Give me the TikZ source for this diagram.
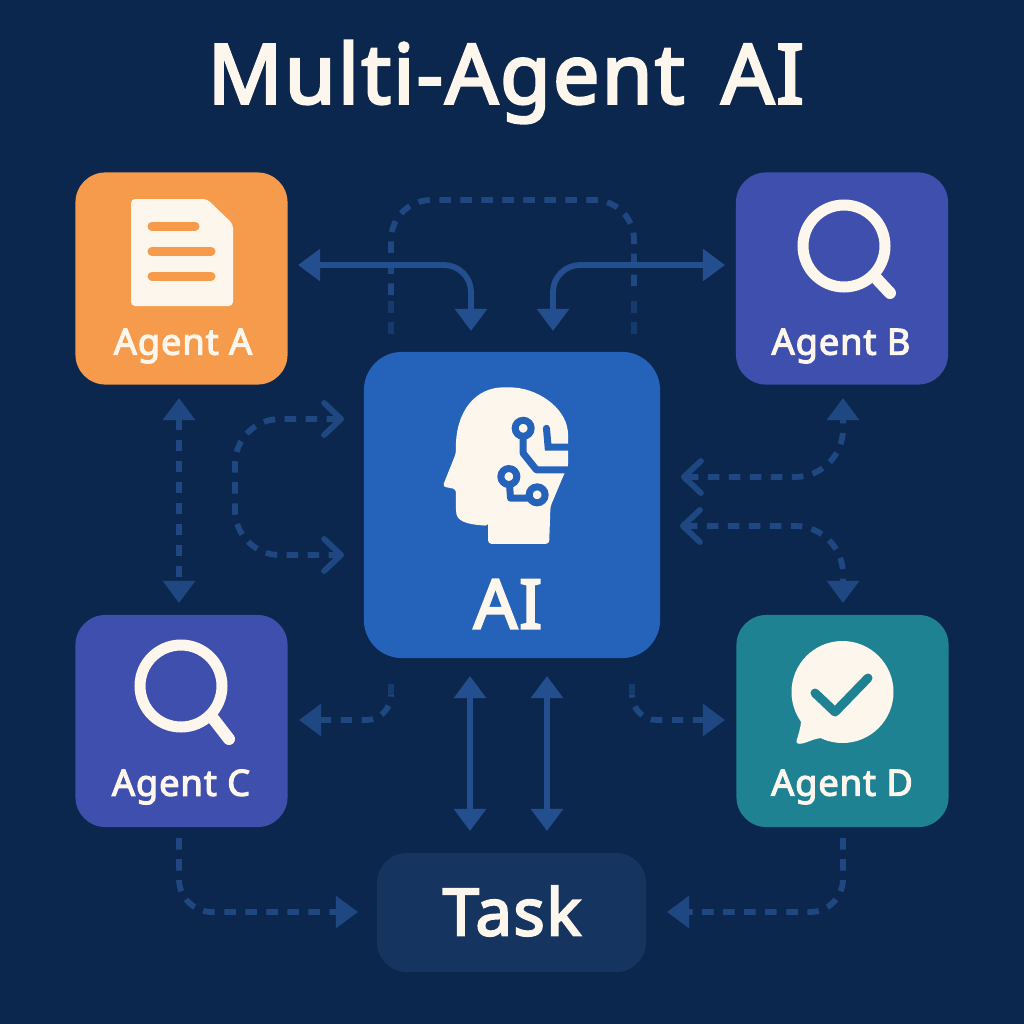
\documentclass[tikz,border=0pt]{standalone}
\usepackage{fontspec}
\setmainfont{Noto Sans}
\newfontfamily\boldish[LetterSpace=2.5,RawFeature={embolden=3.2}]{Noto Sans}
\usetikzlibrary{arrows.meta}
\definecolor{bgnavy}{HTML}{0B274D}
\definecolor{orangebox}{HTML}{F59B4B}
\definecolor{indigobox}{HTML}{3F4FAE}
\definecolor{bluebox}{HTML}{2563BB}
\definecolor{tealbox}{HTML}{1F8293}
\definecolor{taskbox}{HTML}{15345F}
\definecolor{cream}{HTML}{FDF6EC}
\definecolor{flow}{HTML}{234F8F}
\definecolor{flowdim}{HTML}{1F4883}
\definecolor{flowfaint}{HTML}{153A6C}
\tikzset{
  card/.style={rounded corners=0.3cm, minimum width=2.12cm, minimum height=2.12cm, inner sep=0pt},
  cardlabel/.style={text=cream, inner sep=0pt, font=\boldish\fontsize{10.3}{12}\selectfont},
  solidflow/.style={draw=flow, line width=0.058cm, rounded corners=0.27cm},
  dashflow/.style={draw=flowdim, line width=0.058cm, dash pattern=on 0.115cm off 0.095cm},
  tri/.tip={Triangle[length=0.22cm,width=0.31cm]},
  barb/.tip={Straight Barb[length=0.17cm,width=0.32cm,line cap=round,round]},
  icon/.style={draw=cream, line width=0.11cm},
}
\begin{document}
\begin{tikzpicture}[x=0.01cm,y=-0.01cm]
\useasboundingbox (0,0) rectangle (1024,1024);
\fill[bgnavy] (0,0) rectangle (1024,1024);
\node (title) [text=cream, inner sep=0pt, font=\boldish\fontsize{23.5}{28}\selectfont] at (506,82) {Multi-Agent\hspace{0.16em} AI};
% boxes
\node (agentA) [card, fill=orangebox] at (181.5,278.5) {};
\node (agentB) [card, fill=indigobox] at (842,278.5) {};
\node (agentC) [card, fill=indigobox] at (181.5,721) {};
\node (agentD) [card, fill=tealbox] at (842.5,721) {};
\node (core) [card, fill=bluebox, minimum width=2.96cm, minimum height=3.06cm, rounded corners=0.38cm] at (512,505) {};
\node (task) [card, fill=taskbox, minimum width=2.69cm, minimum height=1.19cm] at (511.5,912.5) {};
\node (labelA) [cardlabel] at (183,346) {Agent A};
\node (labelB) [cardlabel] at (841,346) {Agent B};
\node (labelC) [cardlabel] at (181,787) {Agent C};
\node (labelD) [cardlabel] at (842,787) {Agent D};
\node (labelAI) [text=cream, inner sep=0pt, font=\boldish\fontsize{19.5}{22}\selectfont] at (508,604) {AI};
\node (labelTask) [text=cream, inner sep=0pt, font=\boldish\fontsize{18.5}{22}\selectfont] at (512,911) {Task};
% document icon
\fill[cream, rounded corners=0.04cm] (131,199) -- (207,199) -- (233,224) -- (233,306) -- (131,306) -- cycle;
\foreach \yy/\xx in {226/195, 251/211, 276/211}
  \draw[orangebox, line width=0.09cm, line cap=round] (152,\yy) -- (\xx,\yy);
% magnifier icons
\draw[icon] (844,246) circle [radius=41];
\draw[icon, line width=0.12cm, line cap=round] (875,277) -- (890,293);
\draw[icon] (181,686) circle [radius=41];
\draw[icon, line width=0.12cm, line cap=round] (212,717) -- (229,739);
% speech bubble icon
\fill[cream] (842.5,692) circle [radius=51];
\fill[cream, rounded corners=0.02cm] (801,718) .. controls (801,728) and (798,735) .. (796,743) .. controls (803,745) and (812,739) .. (822,738) -- cycle;
\draw[tealbox, line width=0.09cm, line cap=round, line join=round] (815,693) -- (835,712) -- (868,678);
% head icon
\begin{scope}[shift={(420,390)},x=0.00333cm,y=-0.00333cm]
\fill[cream, rounded corners=0.03cm] (205,405) -- (205,462) -- (388,462) -- (392,350) -- (432,255) -- (445,230) -- (445,130)
  .. controls (435,50) and (350,-8) .. (260,-8) .. controls (170,-8) and (105,60) .. (108,190)
  -- (68,290) -- (108,298) -- (108,365) .. controls (115,400) and (160,405) .. (205,408) -- cycle;
\draw[bluebox, line width=0.07cm, line join=round] (310,115) -- (310,190) -- (350,240) -- (450,240);
\draw[bluebox, line width=0.07cm, line cap=round] (380,115) -- (385,172) -- (450,172);
\draw[bluebox, line width=0.07cm, line join=round] (267,260) -- (272,325) -- (352,325);
\foreach \cx/\cy in {310/115, 267/260, 352/315}
  \draw[bluebox, fill=cream, line width=0.07cm] (\cx,\cy) circle [radius=24];
\end{scope}
% flow end points
\coordinate (topL) at (391,295);
\coordinate (topNW) at (391,200);
\coordinate (topNE) at (634,200);
\coordinate (topR) at (634,295);
\coordinate (fadeL) at (391,334);
\coordinate (fadeR) at (634,334);
\coordinate (solidA) at (298,265);
\coordinate (solidAI) at (471,331);
\coordinate (solidB) at (725,265);
\coordinate (solidBI) at (553,331);
\coordinate (acTop) at (179,398);
\coordinate (acBot) at (179,603);
\coordinate (loopTop) at (344,419);
\coordinate (loopBot) at (344,555);
\coordinate (loopNW) at (235,419);
\coordinate (loopSW) at (235,555);
\coordinate (bOut) at (681,477);
\coordinate (bIn) at (843,398);
\coordinate (dOut) at (680,526);
\coordinate (dIn) at (843,603);
\coordinate (cOut) at (299,720);
\coordinate (cCore) at (391,695);
\coordinate (cFade) at (391,675);
\coordinate (dTip) at (725,720);
\coordinate (dCore) at (632,695);
\coordinate (dFade) at (632,675);
\coordinate (v1Top) at (470,676);
\coordinate (v1Bot) at (470,831);
\coordinate (v2Top) at (547,676);
\coordinate (v2Bot) at (547,831);
\coordinate (cDown) at (179,838);
\coordinate (tL) at (358,912);
\coordinate (dDown) at (843,838);
\coordinate (tR) at (667,912);
% dashed flows
\draw[dashflow, rounded corners=0.4cm] (topL) -- (topNW) -- (topNE) -- (topR);
\draw[dashflow, draw=flowfaint] (fadeL) -- (391,300);
\draw[dashflow, draw=flowfaint] (fadeR) -- (634,300);
\draw[dashflow, {tri}-{tri}] (acTop) -- (acBot);
\draw[dashflow, rounded corners=0.45cm, {barb}-{barb}] (loopTop) -- (loopNW) -- (loopSW) -- (loopBot);
\draw[dashflow, rounded corners=0.48cm, {barb}-{tri}] (bOut) -| (bIn);
\draw[dashflow, rounded corners=0.48cm, {barb}-{tri}] (dOut) -| (dIn);
\draw[dashflow, rounded corners=0.25cm, {tri}-] (cOut) -| (cCore);
\draw[dashflow, rounded corners=0.25cm, {tri}-] (dTip) -| (dCore);
\draw[dashflow, draw=flowfaint] (cCore) -- (cFade);
\draw[dashflow, draw=flowfaint] (dCore) -- (dFade);
\draw[dashflow, rounded corners=0.33cm, -{tri}] (cDown) |- (tL);
\draw[dashflow, rounded corners=0.33cm, -{tri}] (dDown) |- (tR);
% solid flows
\draw[solidflow, {tri}-{tri}] (solidA) -| (solidAI);
\draw[solidflow, {tri}-{tri}] (solidB) -| (solidBI);
\draw[solidflow, {tri}-{tri}] (v1Top) -- (v1Bot);
\draw[solidflow, {tri}-{tri}] (v2Top) -- (v2Bot);
\end{tikzpicture}
\end{document}
